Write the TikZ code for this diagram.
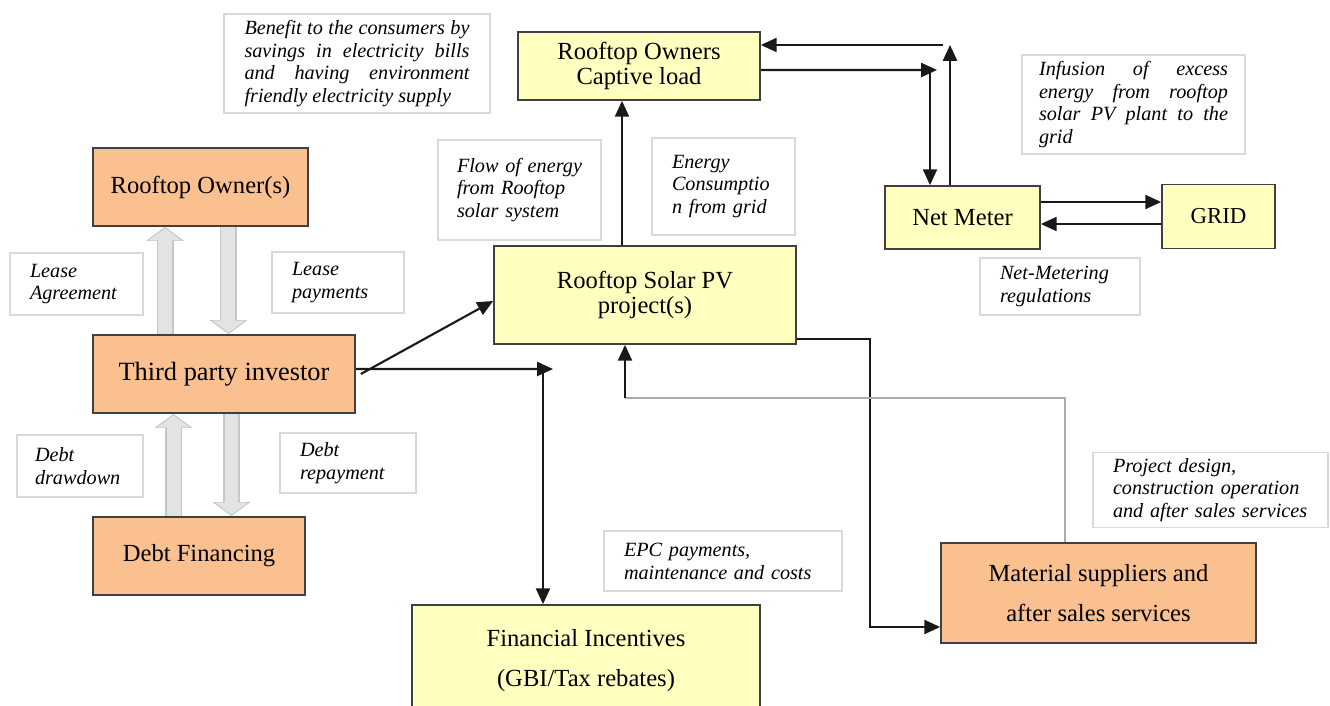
\documentclass[tikz,border=0pt]{standalone}
\usepackage{fontspec}
\setmainfont{Liberation Serif}
\usetikzlibrary{arrows.meta}
\definecolor{boxyellow}{RGB}{255,255,192}
\definecolor{boxorange}{RGB}{250,192,144}
\tikzset{
  ybox/.style={draw=black!75,line width=1pt,fill=boxyellow,align=center,inner sep=0pt,font=\fontsize{14}{14.5}\selectfont},
  obox/.style={ybox,fill=boxorange},
  tbox/.style={draw=gray!30,line width=0.8pt,fill=white,align=left,inner sep=0pt,font=\fontsize{11.5}{13}\selectfont\itshape},
  arr/.style={draw=black!90,line width=1.2pt,-{Triangle[width=8pt,length=9pt]}},
  bigarrow/.style={draw=gray!45,line width=0.34cm,-{Triangle[width=0.74cm,length=0.28cm]},
    postaction={draw=gray!22,line width=0.28cm,-{Triangle[width=0.64cm,length=0.24cm]},shorten >=0.03cm}},
  retline/.style={draw=gray!65,line width=0.8pt}
}
\begin{document}
\begin{tikzpicture}[x=0.02cm,y=-0.02cm]
\useasboundingbox (0,0) rectangle (1330,706);
\node[ybox,minimum width=4.84cm,minimum height=1.36cm] (load) at (639,66) {Rooftop Owners\\Captive load};
\node[ybox,minimum width=6.04cm,minimum height=1.96cm] (pv) at (645,295) {Rooftop Solar PV\\project(s)};
\node[obox,minimum width=4.3cm,minimum height=1.56cm] (own) at (200.5,187) {Rooftop Owner(s)};
\node[obox,minimum width=5.24cm,minimum height=1.56cm,font=\fontsize{15}{18}\selectfont] (tpi) at (224,374) {Third party investor};
\node[obox,minimum width=4.24cm,minimum height=1.56cm] (debt) at (199,556) {Debt Financing};
\node[ybox,minimum width=3.1cm,minimum height=1.26cm] (nm) at (962.5,217.5) {Net Meter};
\node[ybox,minimum width=2.26cm,minimum height=1.28cm,font=\fontsize{13}{14}\selectfont] (grid) at (1218.5,216.5) {GRID};
\node[obox,minimum width=6.3cm,minimum height=2cm,font=\fontsize{14}{23}\selectfont] (mat) at (1098.5,593) {Material suppliers and\\after sales services};
\node[ybox,minimum width=6.96cm,minimum height=2.22cm,font=\fontsize{14}{23}\selectfont] (fin) at (586,660.5) {Financial Incentives\\(GBI/Tax rebates)};

\node[tbox,minimum width=5.32cm,minimum height=1.98cm,text width=4.5cm,align=justify] (benefit) at (357,63.5) {Benefit to the consumers by\linebreak savings in electricity bills\linebreak and having environment\linebreak friendly electricity supply};
\node[tbox,minimum width=3.26cm,minimum height=2cm,text width=2.5cm] (flow) at (519.5,190) {Flow of energy\\from Rooftop\\solar system\\[0.35cm]};
\node[tbox,minimum width=2.86cm,minimum height=1.94cm,text width=2.06cm] (cons) at (723.5,186.5) {Energy\\Consumptio\\n from grid\\[0.3cm]};
\node[tbox,minimum width=4.46cm,minimum height=1.98cm,text width=3.78cm,align=justify] (infuse) at (1133.5,104.5) {Infusion of excess\linebreak energy from rooftop\linebreak solar PV plant to the\linebreak grid};
\node[tbox,minimum width=3.2cm,minimum height=1.14cm,text width=2.4cm] (netreg) at (1060,286.5) {Net-Metering\\regulations};
\node[tbox,minimum width=2.66cm,minimum height=1.24cm,text width=1.86cm] (leaseag) at (76.5,284) {Lease\\Agreement};
\node[tbox,minimum width=2.64cm,minimum height=1.22cm,text width=1.84cm] (leasepay) at (338,282.5) {Lease\\payments};
\node[tbox,minimum width=2.52cm,minimum height=1.24cm,text width=1.8cm] (drawdn) at (80,466) {Debt\\drawdown};
\node[tbox,minimum width=2.72cm,minimum height=1.2cm,text width=1.92cm] (repay) at (348,463) {Debt\\repayment};
\node[tbox,minimum width=4.76cm,minimum height=1.2cm,text width=3.96cm] (epc) at (723,561) {EPC payments,\\maintenance and costs};
\node[tbox,minimum width=4.7cm,minimum height=1.5cm,text width=3.9cm] (design) at (1210.5,490) {Project design,\\construction operation\\and after sales services};

\draw[bigarrow] ([xshift=-1.18cm]tpi.north) -- ([xshift=-1.18cm]tpi.north |- own.south);
\draw[bigarrow] ([xshift=0.56cm]own.south) -- ([xshift=0.56cm]own.south |- tpi.north);
\draw[bigarrow] ([xshift=-0.51cm]debt.north) -- ([xshift=-0.51cm]debt.north |- tpi.south);
\draw[bigarrow] ([xshift=0.15cm]tpi.south) -- ([xshift=0.15cm]tpi.south |- debt.north);

\coordinate (fork) at (543,369);
\coordinate (nmin) at (930,70);
\coordinate (nmout) at (950,45);
\coordinate (bend) at (870,339);
\coordinate (ret) at (1065,398);
\coordinate (turn) at (625,398);
\draw[arr] ([xshift=0.1cm]tpi.east) -- ([yshift=-0.12cm]pv.west);
\draw[arr] ([yshift=0.1cm]tpi.east) -- ([xshift=0.2cm]fork);
\draw[arr] (fork) -- (fork |- fin.north);
\draw[arr] ([xshift=-0.46cm]pv.north) -- ([xshift=-0.46cm]pv.north |- load.south);
\draw[arr] ([yshift=-0.08cm]load.east) -- ([xshift=0.14cm]nmin);
\draw[arr] (nmin) -- (nmin |- nm.north);
\draw[arr] (nmout |- nm.north) -- (nmout);
\draw[arr] ([xshift=-0.14cm]nmout) -- (load.east |- nmout);
\draw[arr] ([yshift=0.31cm]nm.east) -- ([yshift=0.31cm]nm.east -| grid.west);
\draw[arr] ([yshift=-0.13cm]nm.east -| grid.west) -- ([yshift=-0.13cm]nm.east);
\draw[arr] (pv.south east |- bend) -- (bend) |- ([yshift=-0.68cm]mat.west);
\draw[retline] (ret |- mat.north) -- (ret) -- (turn);
\draw[arr] (turn) -- (turn |- pv.south);
\end{tikzpicture}
\end{document}
